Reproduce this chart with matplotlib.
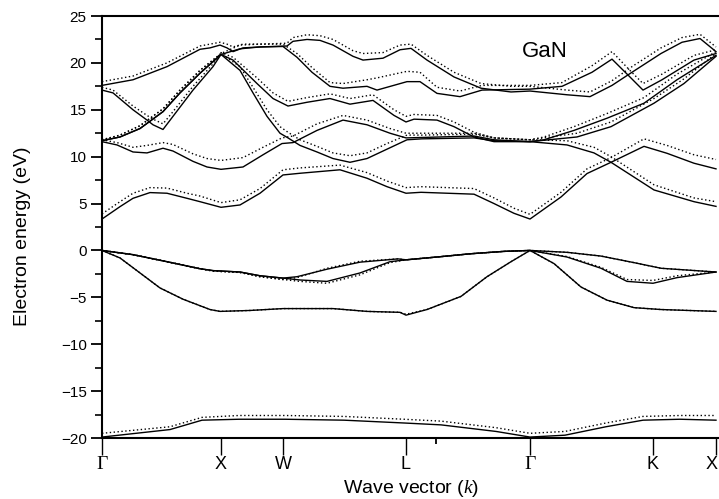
import matplotlib.pyplot as plt
import matplotlib.transforms as mtransforms

plt.rcParams['font.family'] = ['Liberation Sans', 'DejaVu Sans']
plt.rcParams['mathtext.fontset'] = 'custom'
plt.rcParams['mathtext.it'] = 'Liberation Serif:italic'
plt.rcParams['mathtext.rm'] = 'Liberation Sans'

# high-symmetry points along the path (distance along k-path)
sym_k = [0, 119, 181, 304, 428, 551, 614]
sym_labels = ['Γ', 'X', 'W', 'L', 'Γ', 'K', 'X']

# Ga 3d semicore band
k_b0 = [0, 68, 100, 137, 183, 242, 302, 339, 394, 428, 463, 504, 541, 578, 614]
e_b0 = [-19.9, -19.1, -18.1, -18.0, -18.0, -18.1, -18.4, -18.6, -19.3, -19.9, -19.7, -18.8, -18.1, -18.0, -18.1]
d_b0 = [-19.5, -18.8, -17.8, -17.6, -17.6, -17.7, -18.0, -18.2, -18.9, -19.5, -19.3, -18.4, -17.7, -17.6, -17.6]

# valence bands
k_v1 = [0, 31, 65, 98, 111, 138, 158, 181, 195, 225, 258, 296, 304, 335, 369, 402, 428, 465, 499, 532, 559, 614]
e_v1 = [0, -0.45, -1.2, -1.95, -2.15, -2.3, -2.7, -2.95, -2.8, -2.0, -1.25, -0.9, -1.0, -0.7, -0.35, -0.1, 0, -0.2, -0.6, -1.3, -1.9, -2.3]
d_v1 = [0, -0.45, -1.2, -1.95, -2.2, -2.35, -2.8, -3.1, -2.9, -1.9, -1.15, -0.9, -1.0, -0.7, -0.35, -0.1, 0, -0.2, -0.6, -1.3, -1.9, -2.3]

k_v2 = [0, 31, 65, 98, 111, 138, 158, 181, 198, 225, 258, 288, 304, 335, 369, 402, 428, 465, 499, 525, 551, 575, 614]
e_v2 = [0, -0.45, -1.2, -1.95, -2.15, -2.3, -2.7, -2.95, -3.15, -3.3, -2.4, -1.2, -1.0, -0.7, -0.35, -0.1, 0, -0.7, -1.9, -3.3, -3.5, -2.9, -2.3]
d_v2 = [0, -0.45, -1.2, -1.95, -2.2, -2.35, -2.8, -3.1, -3.3, -3.5, -2.6, -1.3, -1.0, -0.7, -0.35, -0.1, 0, -0.65, -1.8, -3.1, -3.2, -2.7, -2.3]

k_v3 = [0, 18, 38, 58, 81, 108, 118, 148, 181, 231, 265, 298, 304, 325, 359, 385, 409, 428, 452, 479, 505, 532, 559, 614]
e_v3 = [0, -0.8, -2.4, -4.0, -5.2, -6.3, -6.5, -6.4, -6.2, -6.2, -6.5, -6.6, -6.9, -6.3, -4.9, -2.8, -1.2, 0, -1.4, -3.9, -5.3, -6.1, -6.3, -6.5]
d_v3 = [0, -0.8, -2.4, -4.0, -5.2, -6.3, -6.5, -6.4, -6.2, -6.2, -6.5, -6.6, -6.8, -6.3, -4.9, -2.8, -1.2, 0, -1.4, -3.9, -5.3, -6.1, -6.3, -6.5]

# conduction bands
k_c1 = [0, 18, 31, 48, 65, 85, 98, 119, 138, 158, 181, 198, 238, 265, 285, 304, 319, 372, 392, 412, 428, 459, 485, 509, 542, 565, 592, 614]
e_c1 = [3.35, 4.67, 5.56, 6.17, 6.1, 5.56, 5.2, 4.6, 4.85, 6.1, 8.05, 8.23, 8.6, 7.7, 6.8, 6.1, 6.2, 6.0, 5.0, 3.96, 3.35, 5.7, 8.2, 9.4, 11.1, 10.36, 9.3, 8.7]
d_c1 = [3.9, 5.2, 6.1, 6.7, 6.65, 6.1, 5.8, 5.1, 5.4, 6.6, 8.6, 8.8, 9.1, 8.3, 7.4, 6.7, 6.8, 6.6, 5.6, 4.5, 3.85, 6.2, 8.7, 9.9, 11.9, 11.2, 10.2, 9.7]

k_c2 = [0, 15, 31, 45, 61, 71, 91, 105, 119, 141, 161, 180, 191, 215, 241, 265, 288, 304, 372, 392, 428, 465, 492, 509, 552, 592, 614]
e_c2 = [11.6, 11.25, 10.5, 10.4, 10.9, 10.6, 9.5, 8.9, 8.65, 8.9, 10.2, 11.4, 11.5, 12.8, 13.9, 13.4, 12.5, 12.0, 12.2, 11.8, 11.6, 11.25, 10.4, 9.4, 6.45, 5.2, 4.7]
d_c2 = [11.8, 11.5, 11.0, 11.2, 11.5, 11.3, 10.3, 9.8, 9.6, 9.9, 11.0, 12.0, 12.2, 13.5, 14.4, 13.9, 13.0, 12.5, 12.5, 12.0, 11.8, 11.7, 11.0, 10.0, 7.0, 5.6, 5.2]

k_c3 = [0, 18, 38, 61, 78, 98, 119, 138, 151, 165, 178, 186, 198, 215, 231, 248, 265, 285, 305, 320, 372, 392, 428, 442, 472, 505, 542, 575, 614]
e_c3 = [11.7, 12.1, 13.0, 14.8, 16.8, 18.9, 20.9, 19.2, 16.8, 14.3, 12.5, 12.0, 11.2, 10.5, 9.8, 9.4, 9.8, 10.8, 11.8, 11.9, 12.0, 11.7, 11.6, 11.8, 12.8, 14.1, 15.7, 18.2, 20.8]
d_c3 = [11.8, 12.3, 13.3, 15.1, 17.1, 19.2, 21.0, 19.6, 17.4, 15.0, 13.2, 12.6, 11.8, 11.1, 10.4, 10.1, 10.4, 11.4, 12.3, 12.3, 12.4, 12.0, 11.8, 12.1, 13.2, 14.6, 16.3, 18.8, 21.2]

k_c4 = [0, 11, 31, 45, 51, 61, 71, 91, 111, 119, 131, 155, 171, 186, 205, 228, 248, 271, 292, 304, 312, 335, 352, 372, 392, 428, 475, 509, 552, 582, 614]
e_c4 = [17.1, 16.8, 15.0, 13.9, 13.4, 12.9, 14.3, 17.1, 19.6, 20.9, 20.3, 17.8, 16.2, 15.4, 15.8, 16.2, 15.6, 16.0, 14.4, 13.7, 14.0, 13.9, 13.2, 12.1, 11.6, 11.6, 12.1, 13.2, 15.7, 17.8, 20.7]
d_c4 = [17.4, 17.1, 15.4, 14.4, 14.0, 13.5, 14.8, 17.5, 19.9, 21.1, 20.6, 18.4, 16.8, 15.9, 16.3, 16.7, 16.2, 16.6, 15.0, 14.3, 14.5, 14.4, 13.7, 12.6, 12.0, 11.8, 12.5, 13.7, 16.2, 18.3, 21.0]

k_c5 = [0, 31, 65, 98, 108, 118, 125, 131, 141, 158, 185, 191, 205, 218, 231, 251, 261, 281, 298, 309, 325, 352, 379, 409, 428, 465, 488, 510, 530, 559, 580, 598, 614]
e_c5 = [17.6, 18.2, 19.6, 21.45, 21.6, 21.9, 21.6, 21.2, 21.6, 21.7, 21.8, 22.3, 22.5, 22.4, 21.9, 20.7, 20.3, 20.5, 21.4, 21.55, 20.3, 18.5, 17.3, 16.9, 17.0, 16.6, 16.4, 17.6, 19.0, 21.0, 22.2, 22.6, 21.2]
d_c5 = [18.0, 18.6, 20.0, 21.8, 22.0, 22.2, 22.0, 21.7, 22.0, 22.0, 22.1, 22.7, 23.0, 22.9, 22.5, 21.3, 21.0, 21.1, 21.9, 22.0, 20.8, 19.0, 17.8, 17.5, 17.5, 17.1, 16.9, 18.1, 19.6, 21.6, 22.7, 23.05, 21.7]

k_c6 = [0, 18, 38, 61, 78, 98, 119, 138, 158, 181, 195, 210, 228, 241, 265, 275, 305, 318, 335, 358, 380, 428, 460, 490, 510, 527, 541, 560, 592, 614]
e_c6 = [11.7, 12.1, 13.0, 14.8, 16.8, 18.9, 20.9, 21.5, 21.7, 21.75, 20.6, 19.0, 17.5, 17.3, 17.5, 17.1, 18.0, 18.0, 16.75, 16.4, 17.1, 17.2, 17.5, 19.0, 20.4, 18.6, 17.1, 18.2, 20.3, 21.0]
d_c6 = [11.8, 12.3, 13.3, 15.1, 17.1, 19.2, 21.0, 21.9, 22.0, 22.0, 21.0, 19.5, 17.9, 17.8, 18.2, 18.4, 19.1, 19.0, 17.4, 17.0, 17.6, 17.6, 17.9, 19.7, 21.2, 19.3, 17.8, 18.8, 20.8, 21.4]

bands = [
    (k_b0, e_b0, d_b0),
    (k_v1, e_v1, d_v1),
    (k_v2, e_v2, d_v2),
    (k_v3, e_v3, d_v3),
    (k_c1, e_c1, d_c1),
    (k_c2, e_c2, d_c2),
    (k_c3, e_c3, d_c3),
    (k_c4, e_c4, d_c4),
    (k_c5, e_c5, d_c5),
    (k_c6, e_c6, d_c6),
]

fig = plt.figure(figsize=(7.19, 4.99), dpi=100)
ax = fig.add_axes([102 / 719, 1 - 438 / 499, 617 / 719, 422 / 499])

for k, e_solid, e_dot in bands:
    ax.plot(k, e_dot, color='black', lw=1.0, ls=(0, (1, 1.8)))
    ax.plot(k, e_solid, color='black', lw=1.0)

ax.set_xlim(0, 617)
ax.set_ylim(-20, 25)

ax.set_yticks(range(-20, 26, 5))
ax.set_yticks([-17.5, -12.5, -7.5, -2.5, 2.5, 7.5, 12.5, 17.5, 22.5], minor=True)
ax.tick_params(axis='y', which='major', direction='out', length=8, width=1.3, labelsize=11, pad=3)
ax.tick_params(axis='y', which='minor', direction='out', length=5, width=1.2)

ax.set_xticks(sym_k)
ax.set_xticklabels(sym_labels)
ax.set_xticks([334], minor=True)
ax.tick_params(axis='x', which='major', direction='out', length=12, width=1.0, labelsize=13, pad=1)
ax.tick_params(axis='x', which='minor', direction='out', length=4, width=1.3)
xlabels = ax.get_xticklabels()
for lab in xlabels:
    if lab.get_text() == 'Γ':
        lab.set_fontfamily('Liberation Serif')
        lab.set_fontsize(14)
# keep the last X inside the figure
xlabels[-1].set_transform(xlabels[-1].get_transform()
                          + mtransforms.ScaledTranslation(-4 / 100, 0, fig.dpi_scale_trans))

for side in ['left', 'bottom', 'top']:
    ax.spines[side].set_linewidth(1.5)
ax.spines['right'].set_visible(False)

fig.text(23 / 719, 1 - 236 / 499, 'Electron energy (eV)', rotation=90,
         ha='center', va='center', fontsize=14)
fig.text(411 / 719, 1 - 493 / 499, 'Wave vector ($k$)',
         ha='center', va='baseline', fontsize=14)

ax.text(443, 21.2, 'GaN', ha='center', va='center', fontsize=16)

fig.savefig('out.png', dpi=100)
